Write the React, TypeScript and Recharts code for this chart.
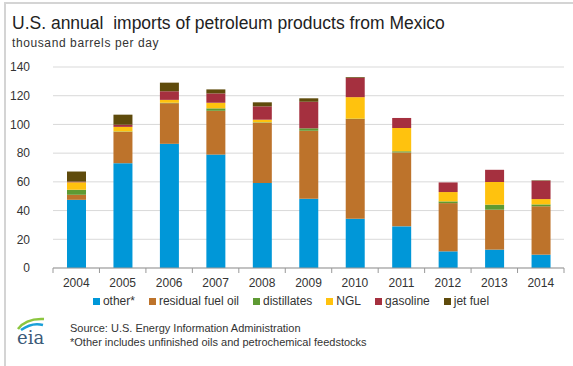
import { BarChart, Bar, XAxis, YAxis, CartesianGrid } from "recharts";

// thousand barrels per day
const years = ["2004", "2005", "2006", "2007", "2008", "2009", "2010", "2011", "2012", "2013", "2014"];
const other = [47.5, 73, 86.5, 79, 59.2, 48.3, 34.3, 29, 11.6, 12.8, 9.3];
const residual = [3.5, 21.8, 28.3, 30.5, 42, 47.3, 69.4, 51.5, 33.6, 27.8, 33.7];
const distillates = [3.5, 0.3, 0.3, 1.7, 0.3, 1.7, 0.3, 0.8, 1.2, 3.5, 1.3];
const ngl = [5.2, 3.2, 2, 3.9, 1.8, 0, 15, 16.2, 6.5, 15.8, 3.7];
const gasoline = [0.5, 1.5, 6, 6.5, 9.3, 18.5, 13.5, 7, 6.7, 8.5, 12.8];
const jetFuel = [7, 7, 6, 2.8, 2.8, 2.4, 0.5, 0, 0, 0, 0.3];
const yTicks = [0, 20, 40, 60, 80, 100, 120, 140];

const series = [
  { key: "other", name: "other*", color: "#0097d8", values: other },
  { key: "residual", name: "residual fuel oil", color: "#bd732b", values: residual },
  { key: "distillates", name: "distillates", color: "#5e9a33", values: distillates },
  { key: "ngl", name: "NGL", color: "#ffc20e", values: ngl },
  { key: "gasoline", name: "gasoline", color: "#a5303f", values: gasoline },
  { key: "jet", name: "jet fuel", color: "#5f4b0c", values: jetFuel },
];

const chartData = years.map((year, i) => {
  const row: Record<string, string | number> = { year };
  series.forEach((s) => {
    row[s.key] = s.values[i];
  });
  return row;
});

const FONT = '"Liberation Sans", Arial, sans-serif';
// x axis takes 30px of the bottom, y axis 40px of the left -> plot is x 53..564, y 67..268
const MARGIN = { top: 67, right: 9, bottom: 68, left: 13 };
const Y_WIDTH = 40;
const PLOT_W = 573 - MARGIN.left - MARGIN.right - Y_WIDTH;
const BAND = PLOT_W / years.length;

function YearTick(props: any) {
  const { x, y, payload, index } = props;
  const left = x - BAND / 2;
  const right = x + BAND / 2;
  return (
    <g>
      <line x1={left} x2={left} y1={y} y2={y + 5} stroke="#999" />
      {index === years.length - 1 && <line x1={right} x2={right} y1={y} y2={y + 5} stroke="#999" />}
      <text x={x} y={y + 19} textAnchor="middle" fill="#333" fontSize={12} fontFamily={FONT}>
        {payload.value}
      </text>
    </g>
  );
}

function LegendRow() {
  return (
    <div
      style={{
        position: "absolute",
        left: 48,
        top: 294,
        width: 500,
        display: "flex",
        justifyContent: "center",
        fontSize: 12,
        color: "#333",
        lineHeight: "14px",
      }}
    >
      {series.map((s) => (
        <span key={s.key} style={{ display: "inline-flex", alignItems: "center", marginRight: 14 }}>
          <span style={{ width: 7, height: 7, background: s.color, marginRight: 3 }} />
          {s.name}
        </span>
      ))}
    </div>
  );
}

function EiaLogo() {
  return (
    <svg width={40} height={34} style={{ position: "absolute", left: 12, top: 314 }}>
      <path d="M6 15 Q14 4 32 5" stroke="#8cc63f" strokeWidth={2.5} fill="none" />
      <path d="M9 16 Q20 8 31 11" stroke="#1aa0d8" strokeWidth={2.5} fill="none" />
      <text x={5} y={30} fontFamily='"DejaVu Serif", serif' fontSize={18} fill="#3b5a78">
        eia
      </text>
    </svg>
  );
}

export default function App() {
  return (
    <div
      style={{
        position: "absolute",
        left: 0,
        top: 0,
        width: 573,
        height: 366,
        background: "#fff",
        fontFamily: FONT,
        overflow: "hidden",
      }}
    >
      <div style={{ position: "absolute", left: 4, top: 2, width: 569, height: 364, borderLeft: "2px solid #d4d4d4", borderTop: "2px solid #d4d4d4" }} />
      <div style={{ position: "absolute", left: 12, top: 13, fontSize: 17.5, color: "#222", whiteSpace: "pre" }}>
        {"U.S. annual  imports of petroleum products from Mexico"}
      </div>
      <div style={{ position: "absolute", left: 12, top: 36, fontSize: 12, letterSpacing: 0.6, color: "#333" }}>
        thousand barrels per day
      </div>
      <BarChart width={573} height={366} data={chartData} margin={MARGIN}>
        <CartesianGrid vertical={false} stroke="#d9d9d9" />
        <XAxis
          dataKey="year"
          axisLine={{ stroke: "#999" }}
          tickLine={false}
          tickSize={0}
          tickMargin={0}
          interval={0}
          tick={<YearTick />}
        />
        <YAxis
          domain={[0, 140]}
          ticks={yTicks}
          width={Y_WIDTH}
          axisLine={false}
          tickLine={false}
          tickMargin={17}
          tick={{ fill: "#333", fontSize: 12, fontFamily: FONT }}
        />
        {series.map((s) => (
          <Bar
            key={s.key}
            dataKey={s.key}
            name={s.name}
            stackId="a"
            fill={s.color}
            barSize={19}
            isAnimationActive={false}
          />
        ))}
      </BarChart>
      <LegendRow />
      <EiaLogo />
      <div style={{ position: "absolute", left: 70, top: 321, fontSize: 11, color: "#333", lineHeight: "14px" }}>
        <div>Source: U.S. Energy Information Administration</div>
        <div>*Other includes unfinished oils and petrochemical feedstocks</div>
      </div>
    </div>
  );
}
